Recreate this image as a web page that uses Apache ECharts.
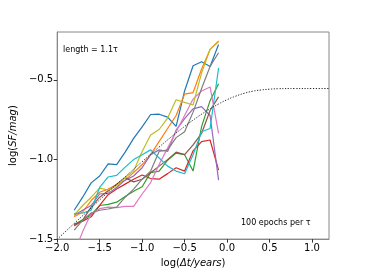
<!DOCTYPE html>
<html><head><meta charset="utf-8">
<script src="https://cdn.jsdelivr.net/npm/echarts@6/dist/echarts.min.js"></script>
<style>html,body{margin:0;padding:0;background:#fff}#c{width:365px;height:273px}</style>
</head><body><div id="c"></div>
<script>
const xs = [-1.8,-1.7,-1.6,-1.5,-1.4,-1.3,-1.2,-1.1,-1.0,-0.9,-0.8,-0.7,-0.6,-0.5,-0.4,-0.3,-0.2,-0.1];
const blue   = [-1.319,-1.237,-1.147,-1.104,-1.028,-1.032,-0.954,-0.868,-0.796,-0.718,-0.716,-0.734,-0.792,-0.570,-0.412,-0.387,-0.416,-0.278];
const orange = [-1.360,-1.330,-1.258,-1.206,-1.186,-1.159,-1.130,-1.083,-1.032,-0.970,-0.888,-0.806,-0.724,-0.590,-0.580,-0.432,-0.309,-0.256];
const green  = [-1.408,-1.379,-1.348,-1.289,-1.282,-1.268,-1.233,-1.200,-1.171,-1.083,-1.073,-1.005,-0.960,-0.970,-1.073,-0.794,-0.631,-0.525];
const red    = [-1.408,-1.387,-1.360,-1.289,-1.221,-1.186,-1.155,-1.124,-1.098,-1.120,-1.124,-1.089,-1.052,-1.073,-0.946,-0.888,-0.878,-1.067];
const purple = [-1.350,-1.319,-1.289,-1.217,-1.213,-1.176,-1.130,-1.104,-1.052,-0.970,-0.940,-0.950,-0.816,-0.744,-0.683,-0.668,-0.724,-1.130];
const brown  = [-1.418,-1.381,-1.299,-1.237,-1.196,-1.155,-1.114,-1.141,-1.124,-1.083,-1.042,-1.001,-0.954,-0.970,-0.909,-0.837,-0.693,-0.607];
const pink   = [-1.586,-1.453,-1.340,-1.309,-1.299,-1.303,-1.295,-1.295,-1.217,-1.145,-1.032,-0.929,-0.826,-0.724,-0.621,-0.570,-0.545,-0.837];
const gray   = [-1.443,-1.381,-1.336,-1.319,-1.311,-1.299,-1.237,-1.186,-1.124,-1.073,-0.950,-0.940,-0.863,-0.826,-0.703,-0.555,-0.416,-0.330];
const olive  = [-1.350,-1.289,-1.237,-1.180,-1.192,-1.165,-1.114,-1.073,-0.950,-0.847,-0.812,-0.740,-0.625,-0.642,-0.658,-0.457,-0.309,-0.262];
const cyan   = [-1.340,-1.336,-1.319,-1.176,-1.110,-1.100,-1.048,-1.001,-0.970,-0.940,-0.991,-1.042,-1.073,-1.090,-0.970,-0.826,-0.806,-0.426];
const modelX = [-2.0,-1.8,-1.6,-1.4,-1.2,-1.0,-0.8,-0.6,-0.5,-0.4,-0.3,-0.2,-0.1,0.0,0.1,0.2,0.3,0.4,0.5,0.6,0.8,1.0,1.2];
const modelY = [-1.501,-1.402,-1.304,-1.205,-1.109,-1.014,-0.922,-0.834,-0.793,-0.753,-0.716,-0.682,-0.652,-0.625,-0.603,-0.585,-0.572,-0.564,-0.559,-0.556,-0.555,-0.555,-0.555];
const xTicks = [-2.0,-1.5,-1.0,-0.5,0.0,0.5,1.0];
const yTicks = [-1.5,-1.0,-0.5];
const annotations = ['length = 1.1\u03c4', '100 epochs per \u03c4'];

const names = ['blue','orange','green','red','purple','brown','pink','gray','olive','cyan'];
const vals = [blue,orange,green,red,purple,brown,pink,gray,olive,cyan];
const colors = ['#1f77b4','#ff7f0e','#2ca02c','#d62728','#9467bd','#8c564b','#e377c2','#7f7f7f','#bcbd22','#17becf'];
const FONT = 'DejaVu Sans';
const fmt = v => (v < 0 ? '\u2212' : '') + Math.abs(v).toFixed(1);

const series = vals.map((arr, i) => ({
  name: names[i], type: 'line', symbol: 'none', silent: true,
  data: xs.map((x, j) => [x, arr[j]]),
  lineStyle: {color: colors[i], width: 1.2}, z: 2 + i
}));
series.push({
  name: 'model', type: 'line', symbol: 'none', smooth: true, silent: true,
  data: modelX.map((x, j) => [x, modelY[j]]),
  lineStyle: {color: '#222', width: 1, type: [1.2, 1.6]}, z: 20
});

const chart = echarts.init(document.getElementById('c'), null, {renderer: 'canvas'});
chart.setOption({
  animation: false,
  backgroundColor: '#fff',
  grid: {left: 46, right: 36, top: 32, bottom: 30, show: true, borderColor: '#888', borderWidth: 1, backgroundColor: 'transparent'},
  xAxis: {
    type: 'value', min: -2.0, max: 1.2,
    axisLine: {show: true, onZero: false, lineStyle: {color: '#888', width: 1}},
    axisTick: {show: true, inside: false, length: 3.5, customValues: xTicks, lineStyle: {color: '#333'}},
    axisLabel: {customValues: xTicks, formatter: fmt, color: '#000', fontFamily: FONT, fontSize: 10, margin: 4},
    splitLine: {show: false},
    name: '{n|log(}{i|\u0394t/years}{n|)}', nameLocation: 'middle', nameGap: 17,
    nameTextStyle: {rich: {
      n: {fontFamily: FONT, fontSize: 10, color: '#000'},
      i: {fontFamily: FONT, fontSize: 10, fontStyle: 'italic', color: '#000'}
    }}
  },
  yAxis: {
    type: 'value', min: -1.5, max: -0.2,
    axisLine: {show: true, onZero: false, lineStyle: {color: '#888', width: 1}},
    axisTick: {show: true, inside: false, length: 3.5, customValues: yTicks, lineStyle: {color: '#333'}},
    axisLabel: {customValues: yTicks, formatter: fmt, color: '#000', fontFamily: FONT, fontSize: 10, margin: 4},
    splitLine: {show: false},
    name: '{n|log(}{i|SF/mag}{n|)}', nameLocation: 'middle', nameGap: 38, nameRotate: 90,
    nameTextStyle: {rich: {
      n: {fontFamily: FONT, fontSize: 10, color: '#000'},
      i: {fontFamily: FONT, fontSize: 10, fontStyle: 'italic', color: '#000'}
    }}
  },
  graphic: [
    {type: 'text', left: 63, top: 46, style: {text: annotations[0], font: '8px "DejaVu Sans"', fill: '#000'}},
    {type: 'text', left: 241, top: 219, style: {text: annotations[1], font: '8px "DejaVu Sans"', fill: '#000'}}
  ],
  series: series
});
</script></body></html>
